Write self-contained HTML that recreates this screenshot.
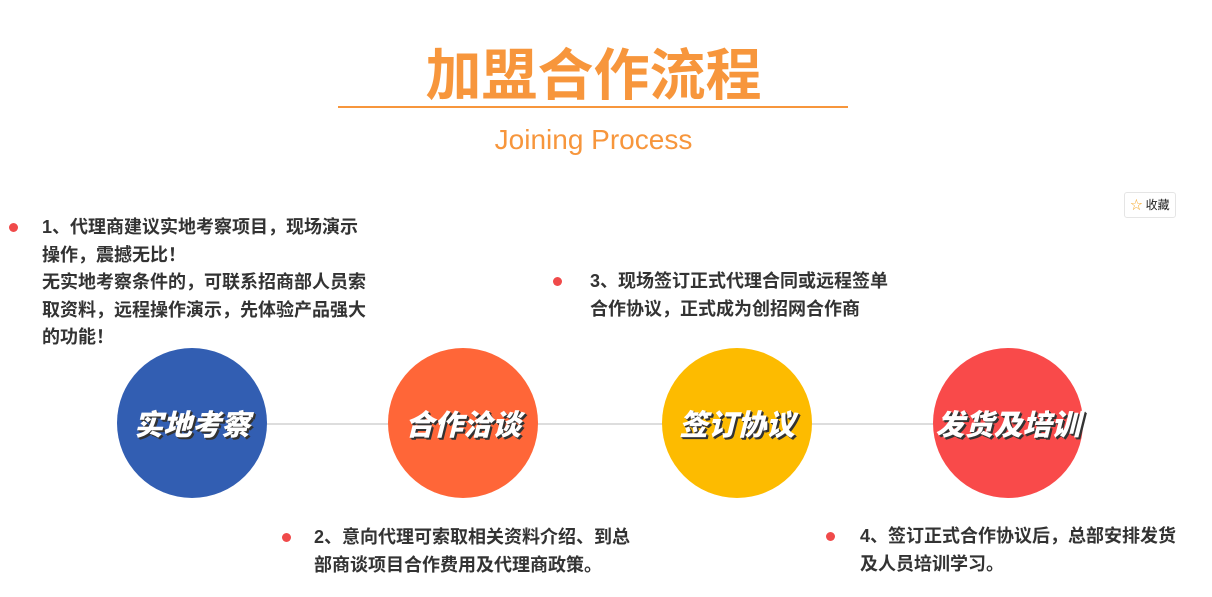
<!DOCTYPE html>
<html><head><meta charset="utf-8"><style>
body{margin:0;width:1212px;height:597px;background:#fff;position:relative;overflow:hidden;font-family:"Liberation Sans","Noto Sans CJK SC",sans-serif}
.abs{position:absolute}
.t{font-size:18px;font-weight:bold;color:#333;line-height:27.5px;white-space:nowrap}
.dot{position:absolute;width:9px;height:9px;border-radius:50%;background:#f04a4a}
.c{position:absolute;width:150px;height:150px;border-radius:50%;display:flex;align-items:center;justify-content:center;color:#fff;font-size:29px;font-weight:900;font-style:italic;text-shadow:2px 2px 0 #333,1px 1px 0 #333;letter-spacing:0}
</style></head><body>
<div class="abs" style="left:0;width:1187px;top:31px;text-align:center;font-size:56px;font-weight:bold;color:#f7963c;letter-spacing:0">加盟合作流程</div>
<div class="abs" style="left:338px;top:106px;width:510px;height:2px;background:#f7963c"></div>
<div class="abs" style="left:0;width:1187px;top:124px;text-align:center;font-size:28px;color:#f7963c">Joining Process</div>
<div class="abs" style="left:1124px;top:192px;width:50px;height:24px;border:1px solid #e5e5e5;border-radius:3px;font-size:12px;line-height:24px;text-align:center;color:#222"><span style="color:#f5a623">☆</span> 收藏</div>
<div class="abs" style="left:192px;top:423px;width:816px;height:2px;background:#ddd"></div>
<div class="c" style="left:117px;top:348px;background:#325eb2">实地考察</div>
<div class="c" style="left:388px;top:348px;background:#ff6638">合作洽谈</div>
<div class="c" style="left:662px;top:348px;background:#fdbb00">签订协议</div>
<div class="c" style="left:933px;top:348px;background:#f94a4a">发货及培训</div>
<div class="dot" style="left:9px;top:223px"></div>
<div class="abs t" style="left:42px;top:214px">1、代理商建议实地考察项目，现场演示<br>操作，震撼无比！<br>无实地考察条件的，可联系招商部人员索<br>取资料，远程操作演示，先体验产品强大<br>的功能！</div>
<div class="dot" style="left:553px;top:277px"></div>
<div class="abs t" style="left:590px;top:268px">3、现场签订正式代理合同或远程签单<br>合作协议，正式成为创招网合作商</div>
<div class="dot" style="left:282px;top:533px"></div>
<div class="abs t" style="left:314px;top:524px">2、意向代理可索取相关资料介绍、到总<br>部商谈项目合作费用及代理商政策。</div>
<div class="dot" style="left:826px;top:532px"></div>
<div class="abs t" style="left:860px;top:523px">4、签订正式合作协议后，总部安排发货<br>及人员培训学习。</div>
</body></html>
